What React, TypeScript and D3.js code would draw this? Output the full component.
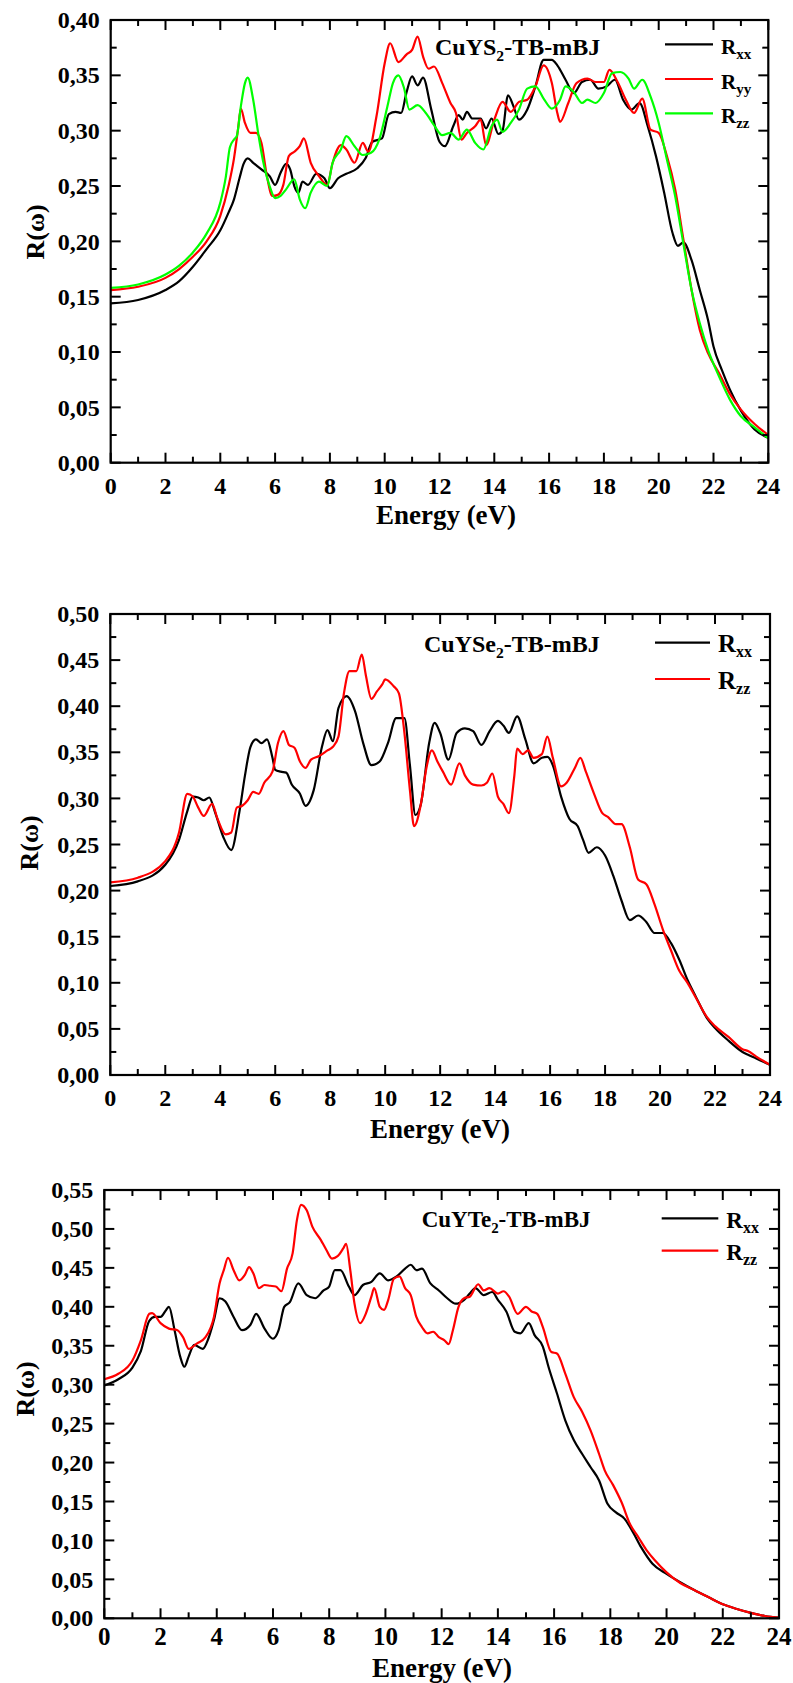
import React from "react";
import * as d3 from "d3";

// ---------- data ----------
const xTickValues = [0, 2, 4, 6, 8, 10, 12, 14, 16, 18, 20, 22, 24];
const yTicksS = [0, 0.05, 0.1, 0.15, 0.2, 0.25, 0.3, 0.35, 0.4];
const yTicksSe = [0, 0.05, 0.1, 0.15, 0.2, 0.25, 0.3, 0.35, 0.4, 0.45, 0.5];
const yTicksTe = [0, 0.05, 0.1, 0.15, 0.2, 0.25, 0.3, 0.35, 0.4, 0.45, 0.5, 0.55];

const cuYS2_Rxx: [number, number][] = [[0,0.144],[1,0.147],[2,0.156],[2.5,0.164],[3,0.177],[3.5,0.193],[4,0.21],[4.3,0.226],[4.5,0.238],[4.7,0.257],[4.85,0.27],[5.0,0.275],[5.2,0.271],[5.5,0.265],[5.8,0.259],[6.0,0.251],[6.2,0.262],[6.4,0.27],[6.55,0.265],[6.7,0.25],[6.85,0.244],[7.0,0.254],[7.2,0.251],[7.5,0.261],[7.8,0.257],[8.0,0.248],[8.3,0.257],[8.6,0.261],[9.0,0.266],[9.3,0.275],[9.55,0.29],[9.9,0.293],[10.15,0.315],[10.4,0.317],[10.6,0.316],[10.8,0.335],[11.0,0.349],[11.2,0.341],[11.4,0.348],[11.7,0.319],[12.0,0.29],[12.2,0.286],[12.5,0.304],[12.7,0.314],[12.85,0.31],[13.0,0.317],[13.2,0.311],[13.5,0.311],[13.7,0.302],[13.9,0.311],[14.15,0.297],[14.3,0.3],[14.5,0.332],[14.7,0.322],[14.9,0.31],[15.2,0.319],[15.5,0.34],[15.8,0.364],[16.1,0.364],[16.3,0.359],[16.6,0.346],[16.9,0.334],[17.2,0.344],[17.5,0.346],[17.8,0.338],[18.1,0.34],[18.4,0.346],[18.7,0.328],[19.0,0.319],[19.3,0.325],[19.6,0.304],[19.9,0.277],[20.2,0.244],[20.5,0.208],[20.7,0.196],[20.9,0.199],[21.2,0.183],[21.5,0.156],[21.8,0.129],[22.0,0.105],[22.3,0.084],[22.6,0.066],[23.0,0.047],[23.5,0.03],[24,0.0226]];
const cuYS2_Ryy: [number, number][] = [[0,0.156],[1,0.159],[2,0.167],[2.5,0.175],[3,0.186],[3.5,0.2],[4,0.223],[4.3,0.25],[4.5,0.275],[4.65,0.302],[4.75,0.32],[4.9,0.307],[5.1,0.298],[5.3,0.298],[5.5,0.289],[5.7,0.259],[5.9,0.241],[6.1,0.242],[6.3,0.251],[6.5,0.277],[6.7,0.281],[6.9,0.286],[7.05,0.293],[7.3,0.271],[7.6,0.259],[7.9,0.251],[8.1,0.271],[8.4,0.287],[8.6,0.283],[8.9,0.271],[9.2,0.289],[9.4,0.281],[9.7,0.313],[10.0,0.361],[10.2,0.379],[10.5,0.362],[10.8,0.369],[11.0,0.373],[11.2,0.385],[11.4,0.367],[11.6,0.356],[11.8,0.358],[12.1,0.343],[12.4,0.325],[12.6,0.316],[12.8,0.292],[13.0,0.298],[13.3,0.304],[13.5,0.31],[13.7,0.287],[14.0,0.31],[14.3,0.326],[14.6,0.317],[14.9,0.326],[15.2,0.328],[15.5,0.34],[15.8,0.359],[16.1,0.343],[16.3,0.316],[16.4,0.308],[16.7,0.325],[17.0,0.343],[17.4,0.347],[17.7,0.344],[18.0,0.344],[18.2,0.355],[18.5,0.344],[18.8,0.328],[19.1,0.316],[19.4,0.329],[19.7,0.301],[20.0,0.298],[20.3,0.277],[20.6,0.247],[20.9,0.202],[21.2,0.156],[21.5,0.12],[21.8,0.099],[22.2,0.081],[22.6,0.062],[23.0,0.048],[23.5,0.035],[24,0.025]];
const cuYS2_Rzz: [number, number][] = [[0,0.158],[1,0.161],[2,0.17],[2.5,0.178],[3,0.19],[3.5,0.207],[4,0.235],[4.2,0.258],[4.35,0.285],[4.5,0.292],[4.6,0.295],[4.75,0.322],[4.9,0.343],[5.0,0.348],[5.2,0.328],[5.4,0.295],[5.6,0.268],[5.8,0.25],[6.0,0.239],[6.2,0.241],[6.4,0.247],[6.7,0.256],[6.9,0.238],[7.1,0.23],[7.3,0.244],[7.6,0.254],[7.9,0.25],[8.1,0.271],[8.4,0.283],[8.6,0.295],[8.9,0.286],[9.2,0.278],[9.5,0.28],[9.8,0.292],[10.1,0.322],[10.3,0.343],[10.5,0.35],[10.7,0.339],[10.9,0.319],[11.2,0.323],[11.5,0.316],[11.8,0.305],[12.1,0.296],[12.4,0.298],[12.7,0.292],[13.0,0.301],[13.3,0.289],[13.6,0.283],[13.9,0.304],[14.1,0.31],[14.3,0.299],[14.6,0.307],[14.9,0.319],[15.2,0.338],[15.5,0.34],[15.8,0.329],[16.1,0.32],[16.4,0.328],[16.6,0.34],[16.9,0.335],[17.2,0.325],[17.4,0.328],[17.7,0.325],[18.0,0.334],[18.3,0.352],[18.6,0.353],[18.9,0.347],[19.1,0.338],[19.4,0.346],[19.7,0.331],[20.0,0.307],[20.3,0.274],[20.6,0.241],[20.9,0.198],[21.2,0.156],[21.5,0.126],[21.8,0.102],[22.2,0.078],[22.6,0.057],[23.0,0.042],[23.5,0.032],[24,0.022]];

const cuYSe2_Rxx: [number, number][] = [[0,0.205],[1,0.21],[2,0.228],[2.5,0.255],[2.8,0.286],[3.0,0.302],[3.2,0.301],[3.4,0.298],[3.6,0.301],[3.8,0.286],[4.1,0.259],[4.4,0.244],[4.7,0.286],[4.9,0.325],[5.1,0.356],[5.3,0.364],[5.5,0.36],[5.7,0.364],[5.9,0.344],[6.0,0.331],[6.2,0.329],[6.4,0.328],[6.6,0.315],[6.9,0.305],[7.1,0.292],[7.4,0.309],[7.7,0.356],[7.9,0.374],[8.1,0.362],[8.3,0.398],[8.6,0.411],[8.9,0.395],[9.2,0.36],[9.5,0.336],[9.8,0.34],[10.1,0.36],[10.4,0.387],[10.7,0.387],[10.9,0.336],[11.1,0.282],[11.3,0.294],[11.6,0.36],[11.8,0.382],[12.0,0.371],[12.3,0.342],[12.6,0.371],[12.9,0.376],[13.2,0.373],[13.5,0.358],[13.8,0.373],[14.1,0.384],[14.3,0.379],[14.5,0.371],[14.8,0.389],[15.1,0.364],[15.4,0.338],[15.7,0.344],[15.9,0.345],[16.1,0.336],[16.4,0.302],[16.7,0.278],[17.0,0.27],[17.2,0.255],[17.4,0.241],[17.7,0.247],[18.0,0.238],[18.3,0.216],[18.6,0.189],[18.9,0.168],[19.2,0.173],[19.5,0.166],[19.8,0.154],[20.1,0.154],[20.4,0.143],[20.7,0.125],[21.0,0.103],[21.3,0.085],[21.7,0.062],[22.0,0.051],[22.5,0.037],[23.0,0.025],[23.2,0.022],[23.5,0.018],[24,0.011]];
const cuYSe2_Rzz: [number, number][] = [[0,0.209],[1,0.214],[2,0.232],[2.5,0.263],[2.8,0.305],[3.0,0.302],[3.2,0.29],[3.4,0.281],[3.7,0.294],[3.9,0.278],[4.2,0.261],[4.4,0.263],[4.6,0.29],[4.8,0.292],[5.0,0.298],[5.2,0.307],[5.4,0.305],[5.6,0.317],[5.9,0.329],[6.1,0.36],[6.3,0.373],[6.5,0.358],[6.7,0.355],[6.9,0.34],[7.1,0.333],[7.3,0.342],[7.6,0.346],[7.9,0.352],[8.1,0.356],[8.3,0.367],[8.5,0.414],[8.7,0.438],[8.95,0.438],[9.15,0.456],[9.3,0.433],[9.5,0.408],[9.7,0.416],[9.9,0.424],[10.0,0.429],[10.3,0.422],[10.5,0.414],[10.7,0.371],[10.9,0.309],[11.05,0.27],[11.3,0.294],[11.5,0.333],[11.7,0.352],[11.9,0.34],[12.1,0.329],[12.4,0.315],[12.7,0.338],[12.9,0.325],[13.2,0.315],[13.5,0.314],[13.7,0.317],[13.9,0.327],[14.1,0.302],[14.3,0.294],[14.5,0.284],[14.7,0.325],[14.8,0.354],[15.0,0.348],[15.2,0.352],[15.4,0.344],[15.7,0.348],[15.9,0.367],[16.1,0.344],[16.4,0.313],[16.6,0.317],[16.9,0.333],[17.1,0.344],[17.3,0.329],[17.6,0.305],[17.9,0.284],[18.1,0.28],[18.4,0.272],[18.6,0.272],[18.9,0.247],[19.2,0.212],[19.5,0.207],[19.8,0.185],[20.1,0.158],[20.4,0.135],[20.7,0.113],[21.0,0.1],[21.3,0.084],[21.7,0.063],[22.0,0.053],[22.5,0.041],[23.0,0.028],[23.2,0.026],[23.5,0.02],[24,0.011]];

const cuYTe2_Rxx: [number, number][] = [[0,0.299],[0.5,0.307],[1,0.322],[1.3,0.343],[1.6,0.382],[1.8,0.387],[2.0,0.387],[2.2,0.396],[2.3,0.4],[2.5,0.37],[2.7,0.336],[2.85,0.323],[3.0,0.336],[3.2,0.351],[3.5,0.346],[3.7,0.359],[3.9,0.383],[4.1,0.411],[4.3,0.407],[4.6,0.387],[4.9,0.37],[5.2,0.377],[5.4,0.391],[5.7,0.372],[6.0,0.359],[6.2,0.37],[6.4,0.4],[6.6,0.406],[6.9,0.43],[7.2,0.415],[7.5,0.411],[7.8,0.421],[8.0,0.426],[8.2,0.447],[8.4,0.447],[8.7,0.426],[8.9,0.415],[9.2,0.428],[9.5,0.432],[9.8,0.443],[10.1,0.434],[10.4,0.439],[10.7,0.449],[10.9,0.454],[11.1,0.447],[11.3,0.449],[11.6,0.43],[11.9,0.421],[12.2,0.411],[12.5,0.404],[12.8,0.409],[13.0,0.417],[13.2,0.424],[13.5,0.415],[13.8,0.419],[14.0,0.409],[14.3,0.394],[14.6,0.368],[14.8,0.366],[15.1,0.379],[15.3,0.364],[15.6,0.349],[15.8,0.323],[16.1,0.289],[16.4,0.254],[16.7,0.229],[17.0,0.211],[17.3,0.194],[17.6,0.177],[17.9,0.147],[18.2,0.136],[18.5,0.128],[18.8,0.111],[19.1,0.091],[19.5,0.07],[20.0,0.057],[20.5,0.046],[21.0,0.036],[21.5,0.027],[22.0,0.018],[22.5,0.012],[23.0,0.007],[23.5,0.003],[24,0.001]];
const cuYTe2_Rzz: [number, number][] = [[0,0.307],[0.5,0.314],[1,0.331],[1.3,0.357],[1.6,0.391],[1.7,0.392],[2.0,0.379],[2.3,0.372],[2.6,0.37],[2.8,0.361],[3.0,0.346],[3.3,0.353],[3.6,0.361],[3.9,0.387],[4.1,0.43],[4.25,0.447],[4.4,0.463],[4.6,0.447],[4.8,0.434],[5.0,0.441],[5.15,0.451],[5.3,0.443],[5.5,0.424],[5.7,0.428],[5.9,0.427],[6.1,0.426],[6.3,0.42],[6.5,0.449],[6.7,0.469],[6.85,0.511],[7.0,0.531],[7.2,0.524],[7.4,0.503],[7.7,0.486],[7.9,0.473],[8.1,0.462],[8.3,0.465],[8.5,0.475],[8.6,0.481],[8.75,0.447],[8.9,0.404],[9.1,0.379],[9.3,0.391],[9.5,0.413],[9.6,0.424],[9.8,0.4],[9.95,0.396],[10.1,0.409],[10.3,0.436],[10.5,0.439],[10.7,0.424],[10.9,0.415],[11.1,0.387],[11.3,0.374],[11.5,0.366],[11.7,0.368],[11.9,0.361],[12.1,0.357],[12.25,0.352],[12.4,0.37],[12.6,0.4],[12.8,0.411],[13.0,0.413],[13.3,0.429],[13.5,0.421],[13.7,0.424],[14.0,0.417],[14.2,0.42],[14.4,0.413],[14.7,0.391],[15.0,0.4],[15.2,0.394],[15.4,0.391],[15.6,0.374],[15.9,0.342],[16.1,0.34],[16.4,0.314],[16.7,0.284],[17.0,0.265],[17.3,0.241],[17.6,0.211],[17.8,0.19],[18.1,0.171],[18.4,0.149],[18.7,0.121],[19.0,0.104],[19.3,0.087],[19.6,0.074],[20.0,0.059],[20.5,0.045],[21.0,0.036],[21.5,0.027],[22.0,0.018],[22.5,0.012],[23.0,0.007],[23.5,0.003],[24,0.001]];

// ---------- layout ----------
const FONT = "'Liberation Serif', 'Times New Roman', Times, serif";
const TXT: React.CSSProperties = { fontFamily: FONT, fontWeight: 700 };

type Series = { data: [number, number][]; color: string; sub: string };
type PanelCfg = {
  left: number; right: number; top: number; bottom: number;
  yMax: number; yTicks: number[];
  titleMain: string; titleRest: string; titleX: number; titleY: number; titleSize: number;
  legX1: number; legX2: number; legY: number[]; legSize: number; legSub: number;
  yLabelX: number; yLabelY: number;
  xTickDy: number; xLabelDy: number; xLabelX: number; xTickSize: number;
  series: Series[];
};

const panels: PanelCfg[] = [
  {
    left: 110.7, right: 768.3, top: 20, bottom: 462.7, yMax: 0.4, yTicks: yTicksS,
    titleMain: "CuYS", titleRest: "-TB-mBJ", titleX: 435, titleY: 55, titleSize: 24,
    legX1: 665, legX2: 713, legY: [44.3, 79, 113.3], legSize: 21, legSub: 15,
    yLabelX: 35, yLabelY: 232, xTickDy: 31.5, xLabelDy: 61.5, xLabelX: 446, xTickSize: 24,
    series: [
      { data: cuYS2_Rxx, color: "#000000", sub: "xx" },
      { data: cuYS2_Ryy, color: "#ff0000", sub: "yy" },
      { data: cuYS2_Rzz, color: "#00ff00", sub: "zz" },
    ],
  },
  {
    left: 110.3, right: 770, top: 614, bottom: 1075, yMax: 0.5, yTicks: yTicksSe,
    titleMain: "CuYSe", titleRest: "-TB-mBJ", titleX: 424, titleY: 651.7, titleSize: 24,
    legX1: 655, legX2: 710, legY: [642.7, 679], legSize: 25, legSub: 16,
    yLabelX: 29, yLabelY: 843, xTickDy: 31, xLabelDy: 63, xLabelX: 440, xTickSize: 24,
    series: [
      { data: cuYSe2_Rxx, color: "#000000", sub: "xx" },
      { data: cuYSe2_Rzz, color: "#ff0000", sub: "zz" },
    ],
  },
  {
    left: 104.3, right: 779, top: 1190, bottom: 1618.3, yMax: 0.55, yTicks: yTicksTe,
    titleMain: "CuYTe", titleRest: "-TB-mBJ", titleX: 421.7, titleY: 1226.7, titleSize: 23,
    legX1: 661.7, legX2: 718.3, legY: [1218.3, 1250.7], legSize: 23, legSub: 16,
    yLabelX: 25, yLabelY: 1389, xTickDy: 27, xLabelDy: 59, xLabelX: 442, xTickSize: 25,
    series: [
      { data: cuYTe2_Rxx, color: "#000000", sub: "xx" },
      { data: cuYTe2_Rzz, color: "#ff0000", sub: "zz" },
    ],
  },
];

const fmt = (v: number) => d3.format(".2f")(v).replace(".", ",");

function Panel({ cfg, idx }: { cfg: PanelCfg; idx: number }) {
  const x = d3.scaleLinear().domain([0, 24]).range([cfg.left, cfg.right]);
  const y = d3.scaleLinear().domain([0, cfg.yMax]).range([cfg.bottom, cfg.top]);
  const line = d3
    .line<[number, number]>()
    .x((d) => x(d[0]))
    .y((d) => y(d[1]))
    .curve(d3.curveMonotoneX);
  const xMinor = d3.range(1, 24, 2);
  const yMinor = cfg.yTicks.slice(0, -1).map((v) => v + 0.025);
  const MAJ = 10;
  const MIN = 6;
  const clipId = `clip${idx}`;
  return (
    <g fill="#000">
      <defs>
        <clipPath id={clipId}>
          <rect x={cfg.left} y={cfg.top - 2} width={cfg.right - cfg.left} height={cfg.bottom - cfg.top + 2} />
        </clipPath>
      </defs>
      <g clipPath={`url(#${clipId})`}>
        {cfg.series.map((s, i) => (
          <path key={i} d={line(s.data) || ""} fill="none" stroke={s.color} strokeWidth={2.2} strokeLinejoin="round" />
        ))}
      </g>
      <g stroke="#000" strokeWidth={2}>
        {xTickValues.map((v) => (
          <g key={"xt" + v}>
            <line x1={x(v)} x2={x(v)} y1={cfg.bottom} y2={cfg.bottom - MAJ} />
            <line x1={x(v)} x2={x(v)} y1={cfg.top} y2={cfg.top + MAJ} />
          </g>
        ))}
        {xMinor.map((v) => (
          <g key={"xm" + v}>
            <line x1={x(v)} x2={x(v)} y1={cfg.bottom} y2={cfg.bottom - MIN} />
            <line x1={x(v)} x2={x(v)} y1={cfg.top} y2={cfg.top + MIN} />
          </g>
        ))}
        {cfg.yTicks.map((v) => (
          <g key={"yt" + v}>
            <line x1={cfg.left} x2={cfg.left + MAJ} y1={y(v)} y2={y(v)} />
            <line x1={cfg.right} x2={cfg.right - MAJ} y1={y(v)} y2={y(v)} />
          </g>
        ))}
        {yMinor.map((v) => (
          <g key={"ym" + v}>
            <line x1={cfg.left} x2={cfg.left + MIN} y1={y(v)} y2={y(v)} />
            <line x1={cfg.right} x2={cfg.right - MIN} y1={y(v)} y2={y(v)} />
          </g>
        ))}
        <rect x={cfg.left} y={cfg.top} width={cfg.right - cfg.left} height={cfg.bottom - cfg.top} fill="none" strokeWidth={2.2} />
      </g>
      {cfg.yTicks.map((v) => (
        <text key={"yl" + v} x={cfg.left - 11} y={y(v)} dy="0.34em" textAnchor="end" style={{ ...TXT, fontSize: 24 }}>
          {fmt(v)}
        </text>
      ))}
      {xTickValues.map((v) => (
        <text key={"xl" + v} x={x(v)} y={cfg.bottom + cfg.xTickDy} textAnchor="middle" style={{ ...TXT, fontSize: cfg.xTickSize }}>
          {v}
        </text>
      ))}
      <text x={cfg.xLabelX} y={cfg.bottom + cfg.xLabelDy} textAnchor="middle" style={{ ...TXT, fontSize: 27 }}>
        Energy (eV)
      </text>
      <text
        transform={`translate(${cfg.yLabelX},${cfg.yLabelY}) rotate(-90)`}
        textAnchor="middle"
        dy="0.35em"
        style={{ ...TXT, fontSize: 26 }}
      >
        R(ω)
      </text>
      <text x={cfg.titleX} y={cfg.titleY} style={{ ...TXT, fontSize: cfg.titleSize }}>
        {cfg.titleMain}
        <tspan style={{ fontSize: cfg.titleSize * 0.65 }} dy={6}>2</tspan>
        <tspan dy={-6}>{cfg.titleRest}</tspan>
      </text>
      {cfg.series.map((s, i) => (
        <g key={"lg" + i}>
          <line x1={cfg.legX1} x2={cfg.legX2} y1={cfg.legY[i]} y2={cfg.legY[i]} stroke={s.color} strokeWidth={2.2} />
          <text x={cfg.legX2 + 8} y={cfg.legY[i] + 9.5} style={{ ...TXT, fontSize: cfg.legSize }}>
            R
            <tspan style={{ fontSize: cfg.legSub }} dy={5}>{s.sub}</tspan>
          </text>
        </g>
      ))}
    </g>
  );
}

export default function App() {
  return (
    <svg
      width={793}
      height={1683}
      viewBox="0 0 793 1683"
      style={{ position: "absolute", left: 0, top: 0, display: "block", background: "#fff" }}
    >
      <rect x={0} y={0} width={793} height={1683} fill="#fff" />
      {panels.map((p, i) => (
        <Panel key={i} cfg={p} idx={i} />
      ))}
    </svg>
  );
}
